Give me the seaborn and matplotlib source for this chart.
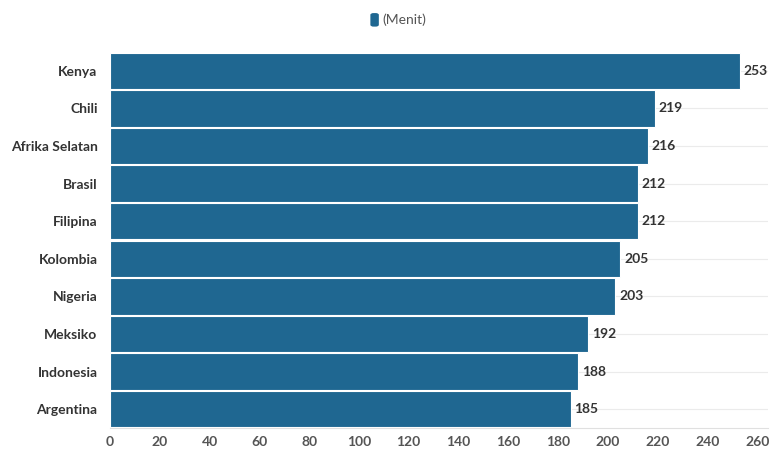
import matplotlib.pyplot as plt
import seaborn as sns
import pandas as pd
from matplotlib.patches import FancyBboxPatch

countries = ["Kenya", "Chili", "Afrika Selatan", "Brasil", "Filipina",
             "Kolombia", "Nigeria", "Meksiko", "Indonesia", "Argentina"]
minutes = [253, 219, 216, 212, 212, 205, 203, 192, 188, 185]
series_name = "(Menit)"
x_ticks = list(range(0, 261, 20))

bar_color = "#1f6791"
df = pd.DataFrame({"country": countries, "value": minutes})

sns.set_style("white")
plt.rcParams["font.family"] = ["Lato", "DejaVu Sans"]

fig = plt.figure(figsize=(7.7, 4.51), dpi=100)
ax = fig.add_axes([0.1429, 0.051, 0.855, 0.8337])

# horizontal guide lines through category centres
for i in range(len(countries)):
    ax.axhline(i, color="#ebebeb", lw=0.8, zorder=0)

sns.barplot(data=df, x="value", y="country", color=bar_color, width=0.97,
            saturation=1, edgecolor="white", linewidth=0.8, ax=ax, zorder=2)

for i, v in enumerate(minutes):
    ax.text(v + 1.5, i, str(v), va="center", ha="left", fontsize=10,
            fontweight="bold", color="#333333")

ax.set_xlim(0, 264.5)
ax.set_ylim(len(countries) - 0.5, -0.5)
ax.set_xticks(x_ticks)
ax.set_xticklabels([str(t) for t in x_ticks], fontsize=10, fontweight="bold",
                   color="#555555")
ax.set_yticks(range(len(countries)))
ax.set_yticklabels(countries, fontsize=10, fontweight="bold", color="#333333")
ax.tick_params(axis="y", length=6, color="#e6e6e6", pad=3)
ax.tick_params(axis="x", length=0, pad=6)
ax.set_xlabel("")
ax.set_ylabel("")
for s in ["top", "right", "left"]:
    ax.spines[s].set_visible(False)
ax.spines["bottom"].set_color("#e0e0e0")
ax.spines["bottom"].set_linewidth(0.8)

# legend at top centre
fig.patches.append(FancyBboxPatch((0.481, 0.941), 0.011, 0.03,
                                  boxstyle="round,pad=0,rounding_size=0.004",
                                  transform=fig.transFigure, facecolor=bar_color,
                                  edgecolor="none"))
fig.text(0.497, 0.956, series_name, fontsize=10, color="#555555", va="center",
         ha="left")

fig.savefig("out.png", dpi=100)
